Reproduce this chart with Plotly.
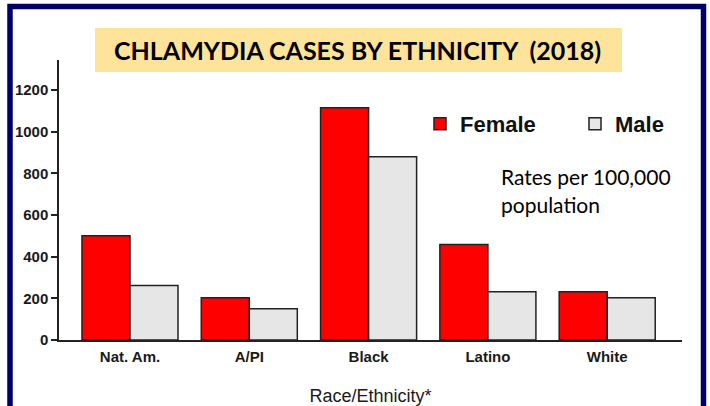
import plotly.graph_objects as go

categories = ["Nat. Am.", "A/PI", "Black", "Latino", "White"]
female = [500, 203, 1115, 458, 232]
male = [262, 150, 880, 232, 203]
y_ticks = [0, 200, 400, 600, 800, 1000, 1200]

W, H = 710, 406
L, R, T, B = 59, 682, 60, 340  # plot area in pixels


def px(x):
    return (x - L) / (R - L)


def py(y):
    return (B - y) / (B - T)


legend_font = dict(family="Liberation Sans, Arial", size=22, color="#111111", weight="bold")

fig = go.Figure()
fig.add_trace(go.Bar(x=categories, y=female, name="Female", legend="legend",
                     marker=dict(color="#ff0000", line=dict(color="#222222", width=1.5))))
fig.add_trace(go.Bar(x=categories, y=male, name="Male", legend="legend2",
                     marker=dict(color="#e6e6e6", line=dict(color="#222222", width=1.5))))

fig.update_layout(
    width=W, height=H, autosize=False,
    margin=dict(l=L, r=W - R, t=T, b=H - B, pad=0),
    paper_bgcolor="white", plot_bgcolor="white",
    barmode="group", bargap=0.195, bargroupgap=0,
    showlegend=True,
    legend=dict(x=px(420), y=py(124), xanchor="left", yanchor="middle",
                font=legend_font, bgcolor="rgba(0,0,0,0)", borderwidth=0,
                itemclick=False, itemdoubleclick=False),
    legend2=dict(x=px(575), y=py(124), xanchor="left", yanchor="middle",
                 font=legend_font, bgcolor="rgba(0,0,0,0)", borderwidth=0,
                 itemclick=False, itemdoubleclick=False),
    xaxis=dict(range=[-0.595, 4.627], showline=True, linecolor="#222222", linewidth=1.5,
               ticks="", showgrid=False, zeroline=False, automargin=False,
               ticklabelstandoff=2,
               tickfont=dict(family="Liberation Sans, Arial", size=15, color="#1a1a1a", weight="bold"),
               title=dict(text="Race/Ethnicity*", standoff=26,
                          font=dict(family="Liberation Sans, Arial", size=18, color="#1a1a1a"))),
    yaxis=dict(range=[0, 1344], tickvals=y_ticks, showline=True, linecolor="#222222", linewidth=1.5,
               ticks="outside", ticklen=6, tickcolor="#222222", tickwidth=1.5,
               showgrid=False, zeroline=False, automargin=False,
               tickfont=dict(family="Liberation Sans, Arial", size=15, color="#1a1a1a", weight="bold")),
    shapes=[
        dict(type="rect", xref="paper", yref="paper",
             x0=px(10), x1=px(703.5), y0=py(450), y1=py(6.5),
             line=dict(color="#00006b", width=5.5), fillcolor="rgba(0,0,0,0)", layer="above"),
        dict(type="rect", xref="paper", yref="paper",
             x0=px(95), x1=px(622), y0=py(72), y1=py(28),
             line=dict(width=0), fillcolor="#fde49a", layer="below"),
    ],
    annotations=[
        dict(text="CHLAMYDIA CASES BY ETHNICITY  (2018)", xref="paper", yref="paper",
             x=px(357), y=py(50), xanchor="center", yanchor="middle", showarrow=False,
             font=dict(family="Lato", size=25, color="#000000", weight="bold")),
        dict(text="Rates per 100,000", xref="paper", yref="paper",
             x=px(499), y=py(176), xanchor="left", yanchor="middle", showarrow=False,
             font=dict(family="Lato", size=21, color="#000000")),
        dict(text="population", xref="paper", yref="paper",
             x=px(499), y=py(204), xanchor="left", yanchor="middle", showarrow=False,
             font=dict(family="Lato", size=21, color="#000000")),
    ],
)

fig.write_html("out.html", config={"displayModeBar": False},
               post_script="document.body.style.margin='0';")
